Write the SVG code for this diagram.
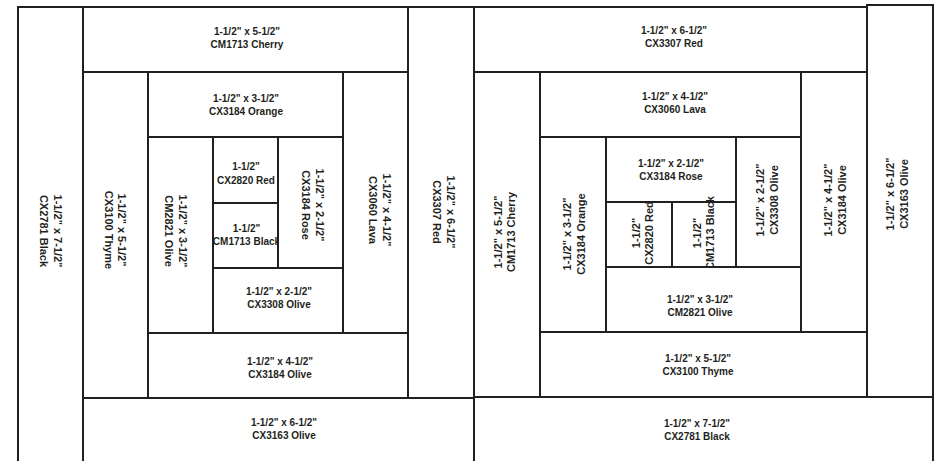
<svg xmlns="http://www.w3.org/2000/svg" width="938" height="461" viewBox="0 0 938 461">
<style>
rect.p{fill:#ffffff;stroke:#231f20;stroke-width:2}
text{font-family:"Liberation Sans",Arial,sans-serif;font-weight:bold;fill:#231f20;text-anchor:middle}
text.h{font-size:10px}
text.v{font-size:11px}
</style>
<rect width="938" height="461" fill="#ffffff"/>
<g id="left-block">
<g id="L-cx2781-black"><rect class="p" x="18" y="7" width="65" height="462"/>
<text class="v" x="53.5" y="231" transform="rotate(90 53.5 231)">1-1/2" x 7-1/2"</text>
<text class="v" x="39.5" y="231" transform="rotate(90 39.5 231)">CX2781 Black</text></g>
<g id="L-cm1713-cherry"><rect class="p" x="83" y="7" width="325" height="65"/>
<text class="h" x="247" y="35">1-1/2" x 5-1/2"</text>
<text class="h" x="247" y="48">CM1713 Cherry</text></g>
<g id="L-cx3100-thyme"><rect class="p" x="83" y="72" width="65" height="326"/>
<text class="v" x="118" y="230" transform="rotate(90 118 230)">1-1/2" x 5-1/2"</text>
<text class="v" x="104.5" y="230" transform="rotate(90 104.5 230)">CX3100 Thyme</text></g>
<g id="L-cx3184-orange"><rect class="p" x="148" y="72" width="195" height="65"/>
<text class="h" x="246" y="102">1-1/2" x 3-1/2"</text>
<text class="h" x="246" y="115">CX3184 Orange</text></g>
<g id="L-cm2821-olive"><rect class="p" x="148" y="137" width="65" height="196"/>
<text class="v" x="178.5" y="231" transform="rotate(90 178.5 231)">1-1/2" x 3-1/2"</text>
<text class="v" x="164.5" y="231" transform="rotate(90 164.5 231)">CM2821 Olive</text></g>
<g id="L-cx2820-red"><rect class="p" x="213" y="137" width="65" height="66"/>
<text class="h" x="246" y="170">1-1/2"</text>
<text class="h" x="246" y="184">CX2820 Red</text></g>
<g id="L-cm1713-black"><rect class="p" x="213" y="203" width="65" height="65"/>
<text class="h" x="246.5" y="232">1-1/2"</text>
<text class="h" x="246.5" y="245">CM1713 Black</text></g>
<g id="L-cx3184-rose"><rect class="p" x="278" y="137" width="65" height="131"/>
<text class="v" x="316" y="205" transform="rotate(90 316 205)">1-1/2" x 2-1/2"</text>
<text class="v" x="302" y="205" transform="rotate(90 302 205)">CX3184 Rose</text></g>
<g id="L-cx3308-olive"><rect class="p" x="213" y="268" width="130" height="65"/>
<text class="h" x="279" y="295">1-1/2" x 2-1/2"</text>
<text class="h" x="279" y="308">CX3308 Olive</text></g>
<g id="L-cx3060-lava"><rect class="p" x="343" y="72" width="65" height="261"/>
<text class="v" x="382.5" y="210" transform="rotate(90 382.5 210)">1-1/2" x 4-1/2"</text>
<text class="v" x="368.5" y="210" transform="rotate(90 368.5 210)">CX3060 Lava</text></g>
<g id="L-cx3184-olive"><rect class="p" x="148" y="333" width="260" height="65"/>
<text class="h" x="280" y="365">1-1/2" x 4-1/2"</text>
<text class="h" x="280" y="378">CX3184 Olive</text></g>
<g id="L-cx3307-red"><rect class="p" x="408" y="7" width="66" height="391"/>
<text class="v" x="447" y="212" transform="rotate(90 447 212)">1-1/2" x 6-1/2"</text>
<text class="v" x="433" y="212" transform="rotate(90 433 212)">CX3307 Red</text></g>
<g id="L-cx3163-olive"><rect class="p" x="83" y="398" width="391" height="71"/>
<text class="h" x="284" y="426">1-1/2" x 6-1/2"</text>
<text class="h" x="284" y="439">CX3163 Olive</text></g>
</g>
<g id="right-block">
<g id="R-cx3307-red"><rect class="p" x="474" y="7" width="393" height="65"/>
<text class="h" x="674" y="34">1-1/2" x 6-1/2"</text>
<text class="h" x="674" y="47">CX3307 Red</text></g>
<g id="R-cm1713-cherry"><rect class="p" x="474" y="72" width="66" height="326"/>
<text class="v" x="501.5" y="232" transform="rotate(-90 501.5 232)">1-1/2" x 5-1/2"</text>
<text class="v" x="515" y="232" transform="rotate(-90 515 232)">CM1713 Cherry</text></g>
<g id="R-cx3060-lava"><rect class="p" x="540" y="72" width="261" height="65"/>
<text class="h" x="675" y="100">1-1/2" x 4-1/2"</text>
<text class="h" x="675" y="113">CX3060 Lava</text></g>
<g id="R-cx3184-orange"><rect class="p" x="540" y="137" width="66" height="195"/>
<text class="v" x="570.5" y="234" transform="rotate(-90 570.5 234)">1-1/2" x 3-1/2"</text>
<text class="v" x="584.5" y="234" transform="rotate(-90 584.5 234)">CX3184 Orange</text></g>
<g id="R-cx3184-rose"><rect class="p" x="606" y="137" width="130" height="65"/>
<text class="h" x="671" y="167">1-1/2" x 2-1/2"</text>
<text class="h" x="671" y="180">CX3184 Rose</text></g>
<g id="R-cx2820-red"><rect class="p" x="606" y="202" width="66" height="65"/>
<text class="v" x="639.5" y="233" transform="rotate(-90 639.5 233)">1-1/2"</text>
<text class="v" x="653" y="233" transform="rotate(-90 653 233)">CX2820 Red</text></g>
<g id="R-cm1713-black"><rect class="p" x="672" y="202" width="64" height="65"/>
<text class="v" x="700.5" y="233" transform="rotate(-90 700.5 233)">1-1/2"</text>
<text class="v" x="714" y="233" transform="rotate(-90 714 233)">CM1713 Black</text></g>
<g id="R-cx3308-olive"><rect class="p" x="736" y="137" width="65" height="130"/>
<text class="v" x="764" y="200" transform="rotate(-90 764 200)">1-1/2" x 2-1/2"</text>
<text class="v" x="778" y="200" transform="rotate(-90 778 200)">CX3308 Olive</text></g>
<g id="R-cm2821-olive"><rect class="p" x="606" y="267" width="195" height="65"/>
<text class="h" x="700" y="303">1-1/2" x 3-1/2"</text>
<text class="h" x="700" y="316">CM2821 Olive</text></g>
<g id="R-cx3184-olive"><rect class="p" x="801" y="72" width="66" height="260"/>
<text class="v" x="832" y="200" transform="rotate(-90 832 200)">1-1/2" x 4-1/2"</text>
<text class="v" x="846" y="200" transform="rotate(-90 846 200)">CX3184 Olive</text></g>
<g id="R-cx3100-thyme"><rect class="p" x="540" y="332" width="327" height="65"/>
<text class="h" x="698" y="362">1-1/2" x 5-1/2"</text>
<text class="h" x="698" y="375">CX3100 Thyme</text></g>
<g id="R-cx3163-olive"><rect class="p" x="867" y="5" width="66" height="392"/>
<text class="v" x="893.5" y="194" transform="rotate(-90 893.5 194)">1-1/2" x 6-1/2"</text>
<text class="v" x="908" y="194" transform="rotate(-90 908 194)">CX3163 Olive</text></g>
<g id="R-cx2781-black"><rect class="p" x="474" y="397" width="459" height="72"/>
<text class="h" x="697" y="427">1-1/2" x 7-1/2"</text>
<text class="h" x="697" y="440">CX2781 Black</text></g>
</g>
<g id="connectors"></g>
</svg>
